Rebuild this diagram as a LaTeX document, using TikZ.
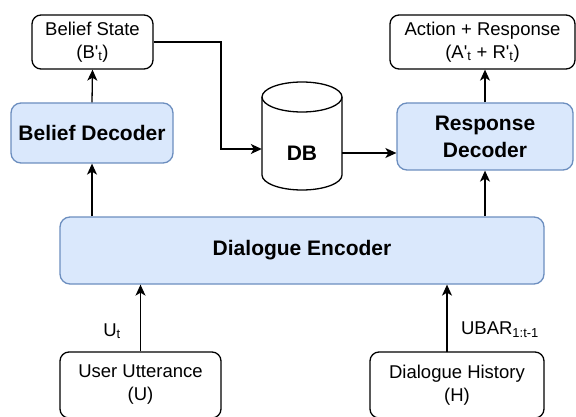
\documentclass[tikz,border=0pt]{standalone}
\usepackage{fontspec}
\setmainfont{Liberation Sans}
\usetikzlibrary{arrows.meta}
\definecolor{encfill}{HTML}{DAE8FC}
\definecolor{encdraw}{HTML}{6C8EBF}
\tikzset{
  iobox/.style={draw=black,rounded corners=9pt,line width=1.3pt,align=center,
    font=\fontsize{18.5}{23}\selectfont,inner sep=0pt},
  netbox/.style={draw=encdraw,fill=encfill,rounded corners=10pt,line width=1.3pt,
    align=center,font=\fontsize{21}{27}\selectfont\bfseries,inner sep=0pt},
  flow/.style={line width=1.3pt,-{Stealth[length=11pt,width=10pt,inset=3pt]}}
}
\newcommand{\prm}{\textquotesingle}
\begin{document}
\begin{tikzpicture}[x=1pt,y=-1pt]
\useasboundingbox (0,0) rectangle (576,417);
% outputs
\node[iobox,minimum width=121,minimum height=54] (bstate) at (92.5,42) {Belief State\\(B\prm\textsubscript{t})};
\node[iobox,minimum width=185,minimum height=54] (act) at (482.5,42) {Action + Response\\(A\prm\textsubscript{t} + R\prm\textsubscript{t})};
% decoders
\node[netbox,minimum width=162,minimum height=60] (bdec) at (92,133) {Belief Decoder};
\node[netbox,minimum width=176,minimum height=67] (rdec) at (485,136.5) {Response\\Decoder};
% database
\node[minimum width=80,minimum height=108] (db) at (302,136) {};
\draw[line width=1.3pt,fill=white] (262,97) -- (262,175) arc[start angle=180,end angle=0,x radius=40,y radius=15] -- (342,97);
\draw[line width=1.3pt] (302,97) ellipse (40 and 15);
\node[font=\fontsize{21}{27}\selectfont\bfseries] (dbtext) at (302,153) {DB};
% encoder
\node[netbox,minimum width=484,minimum height=67] (enc) at (302,250.5) {Dialogue Encoder};
% inputs
\node[iobox,minimum width=161,minimum height=66] (user) at (140.5,385) {User Utterance\\(U)};
\node[iobox,minimum width=174,minimum height=66] (hist) at (457,385) {Dialogue History\\(H)};
\coordinate (hin) at (447,352);
% connectors
\draw[flow] (bdec.north) -- (bstate.south);
\draw[flow] (enc.north -| bdec) -- (bdec.south);
\draw[flow] (enc.north -| rdec) -- (rdec.south);
\draw[flow] (rdec.north) -- (rdec.north |- act.south);
\coordinate (bend) at (221,149);
\draw[flow] (bstate.east) -| (bend) -- (db.west |- bend);
\draw[flow] (db.east |- dbtext) -- (rdec.west |- dbtext);
\draw[flow] (user.north) -- (user.north |- enc.south);
\draw[flow] (hin) -- (hin |- enc.south);
% labels
\node[font=\fontsize{18.5}{23}\selectfont] (ut) at (112,331) {U\textsubscript{t}};
\node[font=\fontsize{18.5}{23}\selectfont] (ubar) at (500,330) {UBAR\textsubscript{1:t-1}};
\end{tikzpicture}
\end{document}
